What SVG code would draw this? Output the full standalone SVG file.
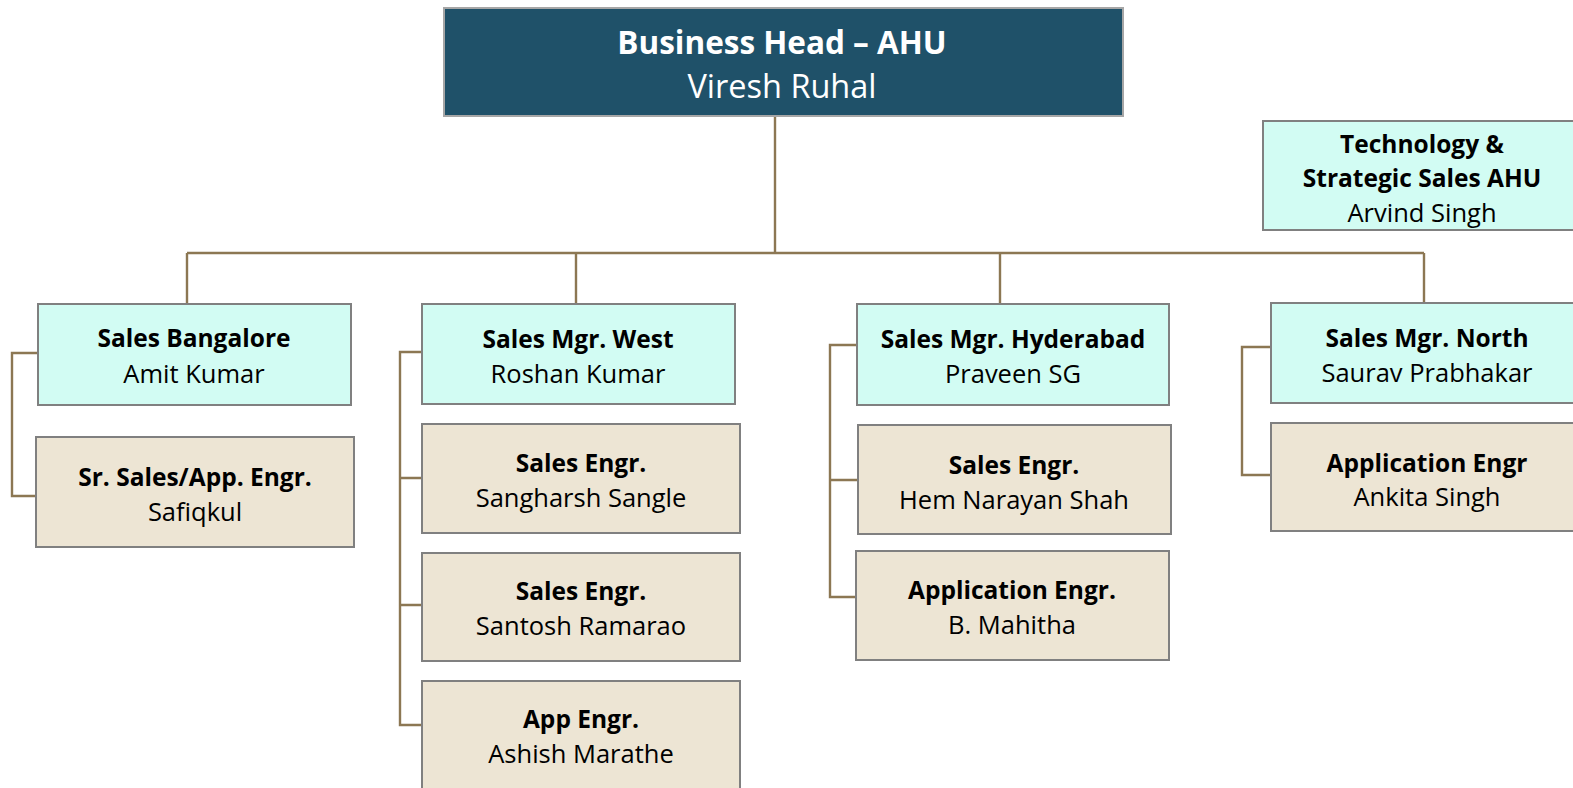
<svg xmlns="http://www.w3.org/2000/svg" width="1573" height="788" viewBox="0 0 1573 788">
<style>
.box{stroke:#808080;stroke-width:2}
.head{fill:#1F5169;stroke:#A6A6A6;stroke-width:2}
.mgr{fill:#D2FCF3}
.eng{fill:#EDE5D4}
.c{fill:none;stroke:#8C7753;stroke-width:2.4}
text{font-family:"Open Sans","Noto Sans","Liberation Sans",sans-serif;font-size:25.5px;text-anchor:middle;fill:#000}
.b{font-weight:bold;font-size:24.5px}
.w{fill:#fff;font-size:32.5px}
.w.b{font-size:31.5px}
</style>
<rect width="1573" height="788" fill="#fff"/>
<g id="connectors">
<path class="c" d="M775 116V252M187 253H1424M187 253V304M576 253V304M1000 253V304M1424 253V303"/>
<path class="c" d="M38 353H12V496H36"/>
<path class="c" d="M422 352H400V725H422M400 478H422M400 605H422"/>
<path class="c" d="M857 345H830V597H856M830 480H858"/>
<path class="c" d="M1271 347H1242V475H1271"/>
</g>
<g id="head">
<rect class="head" x="444" y="8" width="679" height="108"/>
<text class="w b" x="782" y="53.5">Business Head – AHU</text>
<text class="w" x="782" y="98">Viresh Ruhal</text>
</g>
<g id="tech">
<rect class="box mgr" x="1263" y="121" width="312" height="109"/>
<text class="b" x="1422" y="152.5">Technology &amp;</text>
<text class="b" x="1422" y="186.5">Strategic Sales AHU</text>
<text x="1422" y="221.5">Arvind Singh</text>
</g>
<g id="bangalore">
<rect class="box mgr" x="38" y="304" width="313" height="101"/>
<text class="b" x="194" y="346.5">Sales Bangalore</text>
<text x="194" y="382.5">Amit Kumar</text>
</g>
<g id="safiqkul">
<rect class="box eng" x="36" y="437" width="318" height="110"/>
<text class="b" x="195" y="485.5">Sr. Sales/App. Engr.</text>
<text x="195" y="520.5">Safiqkul</text>
</g>
<g id="west">
<rect class="box mgr" x="422" y="304" width="313" height="100"/>
<text class="b" x="578" y="347.5">Sales Mgr. West</text>
<text x="578" y="382.5">Roshan Kumar</text>
</g>
<g id="sangharsh">
<rect class="box eng" x="422" y="424" width="318" height="109"/>
<text class="b" x="581" y="471.5">Sales Engr.</text>
<text x="581" y="506.5">Sangharsh Sangle</text>
</g>
<g id="santosh">
<rect class="box eng" x="422" y="553" width="318" height="108"/>
<text class="b" x="581" y="599.5">Sales Engr.</text>
<text x="581" y="634.5">Santosh Ramarao</text>
</g>
<g id="ashish">
<rect class="box eng" x="422" y="681" width="318" height="112"/>
<text class="b" x="581" y="727.5">App Engr.</text>
<text x="581" y="762.5">Ashish Marathe</text>
</g>
<g id="hyderabad">
<rect class="box mgr" x="857" y="304" width="312" height="101"/>
<text class="b" x="1013" y="347.5">Sales Mgr. Hyderabad</text>
<text x="1013" y="382.5">Praveen SG</text>
</g>
<g id="hem">
<rect class="box eng" x="858" y="425" width="313" height="109"/>
<text class="b" x="1014" y="473.5">Sales Engr.</text>
<text x="1014" y="508.5">Hem Narayan Shah</text>
</g>
<g id="mahitha">
<rect class="box eng" x="856" y="551" width="313" height="109"/>
<text class="b" x="1012" y="598.5">Application Engr.</text>
<text x="1012" y="633.5">B. Mahitha</text>
</g>
<g id="north">
<rect class="box mgr" x="1271" y="303" width="310" height="100"/>
<text class="b" x="1427" y="346.5">Sales Mgr. North</text>
<text x="1427" y="381.5">Saurav Prabhakar</text>
</g>
<g id="ankita">
<rect class="box eng" x="1271" y="423" width="310" height="108"/>
<text class="b" x="1427" y="471.5">Application Engr</text>
<text x="1427" y="505.5">Ankita Singh</text>
</g>
</svg>
